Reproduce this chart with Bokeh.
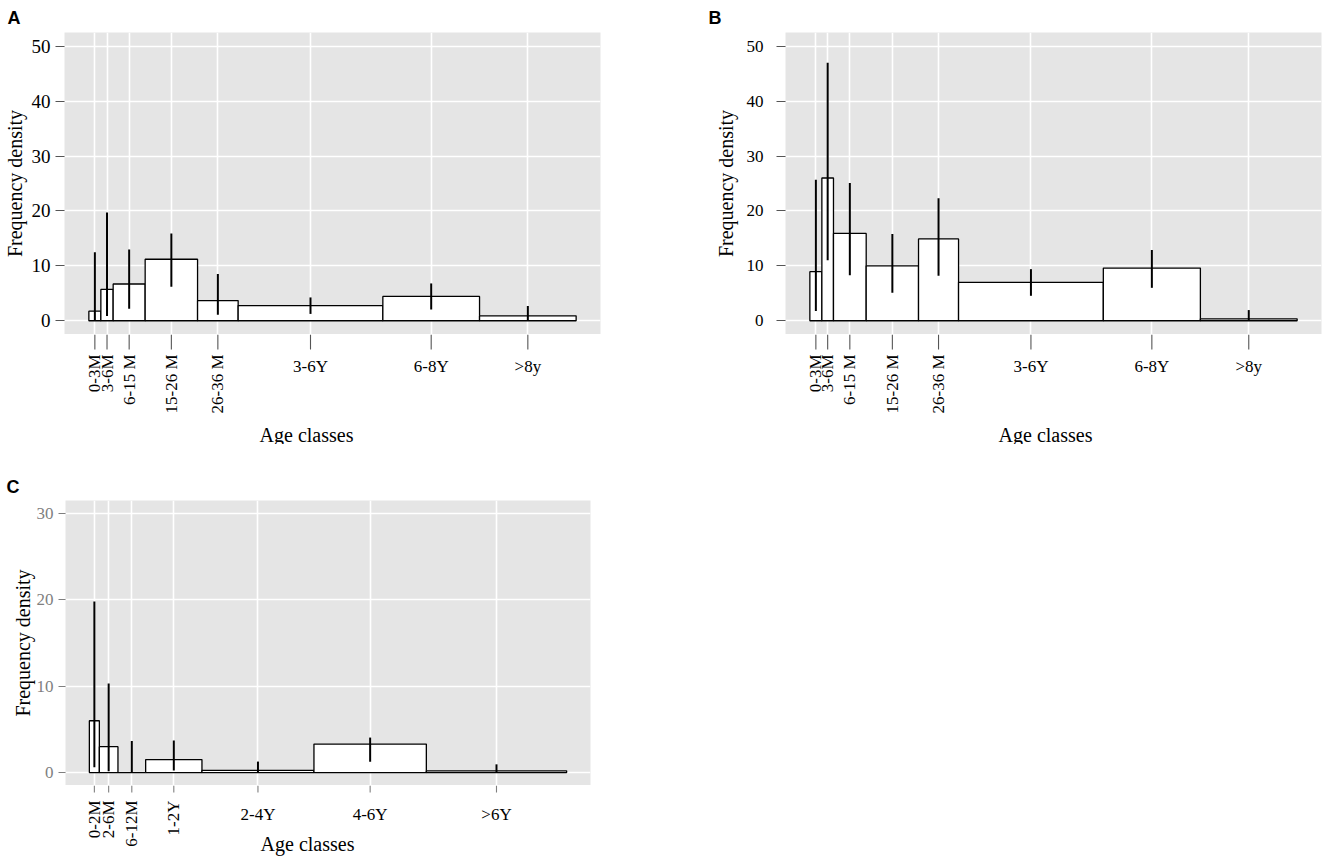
import math
from bokeh.plotting import figure
from bokeh.models import Range1d, FixedTicker, ColumnDataSource
from bokeh.layouts import column, row
from bokeh.core.properties import value
from bokeh.embed import file_html
from bokeh.resources import INLINE

# ---------------- data ----------------
# Panel A
a_labels = ["0-3M", "3-6M", "6-15 M", "15-26 M", "26-36 M", "3-6Y", "6-8Y", ">8y"]
a_edges = [0, 12, 24.3, 56.3, 108.7, 149.3, 294, 390.7, 487.3]
a_density = [1.74, 5.7, 6.7, 11.2, 3.67, 2.77, 4.43, 0.9]
a_lo = [0.1, 0.85, 2.2, 6.2, 1.1, 1.25, 2.05, 0.05]
a_hi = [12.5, 19.7, 13.0, 15.9, 8.5, 4.25, 6.8, 2.7]
a_rotated = [True, True, True, True, True, False, False, False]

# Panel B
b_labels = ["0-3M", "3-6M", "6-15 M", "15-26 M", "26-36 M", "3-6Y", "6-8Y", ">8y"]
b_edges = [0, 12, 23.6, 56.3, 108.6, 148.6, 293.3, 390.3, 487]
b_density = [8.95, 26.0, 15.9, 10.0, 14.9, 7.0, 9.6, 0.35]
b_lo = [1.8, 11.0, 8.3, 5.1, 8.2, 4.55, 6.0, 0]
b_hi = [25.7, 47.0, 25.1, 15.8, 22.3, 9.4, 12.9, 1.95]
b_rotated = [True, True, True, True, True, False, False, False]

# Panel C
c_labels = ["0-2M", "2-6M", "6-12M", "1-2Y", "2-4Y", "4-6Y", ">6Y"]
c_edges = [0, 10, 28.6, 56.3, 112.6, 224.6, 337, 477.3]
c_density = [6.0, 3.0, 0, 1.5, 0.25, 3.3, 0.2]
c_lo = [0.6, 0.15, 0, 0.23, 0, 1.25, 0]
c_hi = [19.8, 10.3, 3.65, 3.7, 1.27, 4.05, 0.95]
c_rotated = [True, True, True, True, False, False, False]

ab_yticks = [0, 10, 20, 30, 40, 50]
c_yticks = [0, 10, 20, 30]

SERIF = "Liberation Serif"


def build(letter, labels, edges, dens, lo, hi, rotated, yticks, yr, g):
    span = edges[-1] - edges[0]
    pad = 0.05 * span
    x0, x1 = edges[0] - pad, edges[-1] + pad
    xr = Range1d(x0, x1)
    fw, fh = g["fw"], g["fh"]
    sx = (x1 - x0) / fw

    p = figure(frame_width=fw, frame_height=fh,
               x_range=xr, y_range=Range1d(*yr),
               output_backend="svg", toolbar_location=None,
               min_border_left=g["bl"], min_border_right=g["br"],
               min_border_top=g["bt"], min_border_bottom=0,
               background_fill_color="#e5e5e5", border_fill_color="white",
               outline_line_color=None)

    mids = [(edges[i] + edges[i + 1]) / 2 for i in range(len(dens))]

    # grid
    p.xgrid.ticker = FixedTicker(ticks=mids)
    p.ygrid.ticker = FixedTicker(ticks=yticks)
    for gr in (p.xgrid[0], p.ygrid[0]):
        gr.grid_line_color = "white"
        gr.grid_line_width = 1.6
        gr.minor_grid_line_color = None

    # bars + error bars
    src = ColumnDataSource(dict(left=edges[:-1], right=edges[1:],
                                top=dens, bottom=[0] * len(dens),
                                mid=mids, lo=lo, hi=hi))
    p.quad(left="left", right="right", top="top", bottom="bottom", source=src,
           fill_color="white", line_color="black", line_width=1.3)
    p.segment(x0="mid", y0="lo", x1="mid", y1="hi", source=src,
              line_color="black", line_width=2)

    p.xaxis.visible = False

    ya = p.yaxis[0]
    ya.ticker = FixedTicker(ticks=yticks)
    ya.axis_line_color = None
    ya.major_tick_in = 0
    ya.major_tick_out = g["ytick"]
    ya.major_tick_line_color = g["tickcol"]
    ya.minor_tick_line_color = None
    ya.major_label_text_font = SERIF
    ya.major_label_text_font_size = g["ylab_size"]
    ya.major_label_text_color = g["ylab_col"]
    ya.major_label_standoff = g["ystand"]
    ya.major_label_text_baseline = g["ybase"]
    ya.axis_label = "Frequency density"
    ya.axis_label_text_font = SERIF
    ya.axis_label_text_font_size = "20px"
    ya.axis_label_text_font_style = "normal"
    ya.axis_label_text_color = "black"
    ya.axis_label_standoff = g["ytstand"]

    # panel letter
    p.title.text = letter
    p.title.align = "left"
    p.title.offset = g["let_x"]
    p.title.standoff = g["let_stand"]
    p.title.text_font = "Liberation Sans"
    p.title.text_font_style = "bold"
    p.title.text_font_size = "18px"
    p.title.text_color = "black"

    # strip below the panel: ticks, tick labels, axis title
    sh = g["sh"]
    s = figure(frame_width=fw, frame_height=sh, x_range=xr, y_range=Range1d(-sh, 0),
               output_backend="svg", toolbar_location=None,
               min_border_left=g["bl"], min_border_right=g["br"],
               min_border_top=0, min_border_bottom=0,
               background_fill_color="white", border_fill_color="white",
               outline_line_color=None)
    s.axis.visible = False
    s.grid.visible = False

    tsrc = ColumnDataSource(dict(x=mids, y0=[0] * len(mids), y1=[-g["xtick"]] * len(mids)))
    s.segment(x0="x", y0="y0", x1="x", y1="y1", source=tsrc,
              line_color=g["tickcol"], line_width=1.1)

    rsrc = ColumnDataSource(dict(
        x=[m for m, r in zip(mids, rotated) if r],
        y=[-g["rot_top"]] * sum(rotated),
        text=[t for t, r in zip(labels, rotated) if r]))
    hsrc = ColumnDataSource(dict(
        x=[m for m, r in zip(mids, rotated) if not r],
        y=[-g["hor_top"]] * (len(rotated) - sum(rotated)),
        text=[t for t, r in zip(labels, rotated) if not r]))
    s.text(x="x", y="y", text="text", source=rsrc, angle=math.pi / 2,
           text_align="right", text_baseline="middle",
           text_font=value(SERIF), text_font_size=value("17px"), text_color="black")
    s.text(x="x", y="y", text="text", source=hsrc,
           text_align="center", text_baseline="top",
           text_font=value(SERIF), text_font_size=value("17px"), text_color="black")
    s.text(x=[x0 + g["xt_x"] * sx], y=[-g["xt_top"]], text=["Age classes"],
           text_align="center", text_baseline="top",
           text_font=value(SERIF), text_font_size=value("20px"), text_color="black")
    return column(p, s)


gA = dict(fw=536, fh=302, bl=64, br=92, bt=31, sh=110, xtick=15, ytick=9,
          tickcol="#555555", ylab_size="19px", ylab_col="black", ystand=5, ybase="middle",
          ytstand=3, rot_top=20, hor_top=22, xt_x=242, xt_top=89,
          let_x=-57, let_stand=10)
gB = dict(fw=536, fh=302, bl=93, br=2, bt=31, sh=110, xtick=15, ytick=9,
          tickcol="#555555", ylab_size="17px", ylab_col="black", ystand=13, ybase="alphabetic",
          ytstand=7, rot_top=20, hor_top=22, xt_x=260, xt_top=89,
          let_x=-77, let_stand=10)
gC = dict(fw=525, fh=285, bl=65, br=102, bt=56, sh=72, xtick=7, ytick=7,
          tickcol="#7f7f7f", ylab_size="17px", ylab_col="#7f7f7f", ystand=5, ybase="middle",
          ytstand=0, rot_top=15, hor_top=19, xt_x=242, xt_top=47,
          let_x=-59, let_stand=8)

pA = build("A", a_labels, a_edges, a_density, a_lo, a_hi, a_rotated, ab_yticks, (-2.5, 52.5), gA)
pB = build("B", b_labels, b_edges, b_density, b_lo, b_hi, b_rotated, ab_yticks, (-2.5, 52.5), gB)
pC = build("C", c_labels, c_edges, c_density, c_lo, c_hi, c_rotated, c_yticks, (-1.5, 31.5), gC)

layout = column(row(pA, pB), pC)
open("out.html", "w").write(file_html(layout, INLINE))
